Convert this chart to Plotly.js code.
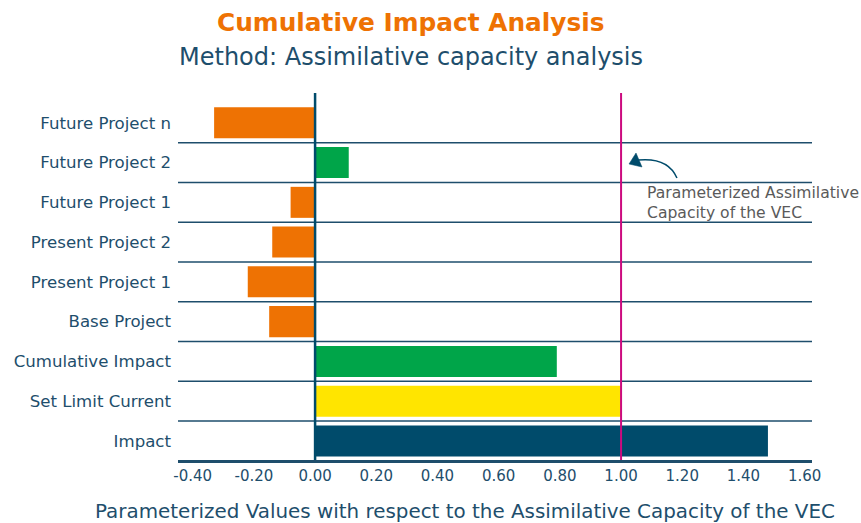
<!DOCTYPE html>
<html>
<head>
<meta charset="utf-8">
<script src="https://cdn.plot.ly/plotly-3.0.1.min.js"></script>
<style>
  html, body { margin: 0; padding: 0; background: #fff; }
  #chart { width: 861px; height: 523px; }
</style>
</head>
<body>
<div id="chart"></div>
<script>
// Projects, listed bottom to top
const categories = [
  'Impact',
  'Set Limit Current',
  'Cumulative Impact',
  'Base Project',
  'Present Project 1',
  'Present Project 2',
  'Future Project 1',
  'Future Project 2',
  'Future Project n'
];
// Parameterized values (fraction of assimilative capacity)
const values = [1.48, 1.00, 0.79, -0.15, -0.22, -0.14, -0.08, 0.11, -0.33];
const barColors = ['#004B6B', '#FFE500', '#00A549', '#EE7203', '#EE7203', '#EE7203', '#EE7203', '#00A549', '#EE7203'];

const capacityLimit = 1.00;
const tickVals = [-0.4, -0.2, 0, 0.2, 0.4, 0.6, 0.8, 1.0, 1.2, 1.4, 1.6];
const tickText = ['-0.40', '-0.20', '0.00', '0.20', '0.40', '0.60', '0.80', '1.00', '1.20', '1.40', '1.60'];

const navy = '#1E4E6C';
const font = '"DejaVu Sans", "Open Sans", sans-serif';

const trace = {
  type: 'bar',
  orientation: 'h',
  x: values,
  y: categories,
  width: 0.78,
  marker: { color: barColors, line: { width: 0 } },
  hoverinfo: 'skip'
};

// Row separators between categories
const gridShapes = [];
for (let k = 0; k < categories.length - 1; k++) {
  gridShapes.push({
    type: 'line', xref: 'paper', yref: 'y',
    x0: 0, x1: 1, y0: k + 0.5, y1: k + 0.5,
    line: { color: navy, width: 1.5 },
    layer: 'below'
  });
}

const shapes = gridShapes.concat([
  // zero reference line
  { type: 'line', xref: 'x', yref: 'paper', x0: 0, x1: 0, y0: 0, y1: 1,
    line: { color: '#004B6B', width: 2.5 } },
  // assimilative capacity line
  { type: 'line', xref: 'x', yref: 'paper', x0: capacityLimit, x1: capacityLimit, y0: 0, y1: 1,
    line: { color: '#CC0A7F', width: 2 } },
  // curved pointer towards the capacity line
  { type: 'path', xref: 'paper', yref: 'paper',
    path: 'M 0.787 0.7684 Q 0.7729 0.8256 0.7256 0.8174',
    line: { color: '#004B6B', width: 1.5 } },
  { type: 'path', xref: 'paper', yref: 'paper',
    path: 'M 0.7114 0.8065 L 0.7224 0.8365 L 0.7319 0.7984 Z',
    fillcolor: '#004B6B', line: { color: '#004B6B', width: 0.5 } }
]);

const annotations = [
  { xref: 'paper', yref: 'paper', x: 0.3675, y: 1.193, xanchor: 'center', yanchor: 'middle',
    text: '<b>Cumulative Impact Analysis</b>', showarrow: false,
    font: { family: font, size: 24.8, color: '#EE7203' } },
  { xref: 'paper', yref: 'paper', x: 0.3675, y: 1.098, xanchor: 'center', yanchor: 'middle',
    text: 'Method: Assimilative capacity analysis', showarrow: false,
    font: { family: font, size: 24, color: navy } },
  { xref: 'paper', yref: 'paper', x: 0.7366, y: 0.699, xanchor: 'left', yanchor: 'middle', align: 'left',
    text: 'Parameterized Assimilative<br>Capacity of the VEC', showarrow: false,
    font: { family: font, size: 15.6, color: '#5A5A5A' } },
  { xref: 'paper', yref: 'paper', x: 0.4527, y: -0.139, xanchor: 'center', yanchor: 'middle',
    text: 'Parameterized Values with respect to the Assimilative Capacity of the VEC', showarrow: false,
    font: { family: font, size: 19.9, color: navy } }
];

const layout = {
  width: 861,
  height: 523,
  margin: { l: 178, r: 49, t: 93, b: 63 },
  paper_bgcolor: '#ffffff',
  plot_bgcolor: '#ffffff',
  showlegend: false,
  bargap: 0.2,
  xaxis: {
    range: [-0.448, 1.624],
    tickvals: tickVals,
    ticktext: tickText,
    showgrid: false,
    zeroline: false,
    showline: true,
    linecolor: navy,
    linewidth: 2.5,
    ticks: '',
    tickfont: { family: font, size: 15, color: navy },
    fixedrange: true
  },
  yaxis: {
    type: 'category',
    categoryorder: 'array',
    categoryarray: categories,
    range: [-0.48, 8.75],
    showgrid: false,
    zeroline: false,
    showline: false,
    ticks: '',
    ticklabelstandoff: 6,
    tickfont: { family: font, size: 16.6, color: navy },
    fixedrange: true
  },
  shapes: shapes,
  annotations: annotations
};

Plotly.newPlot('chart', [trace], layout, { displayModeBar: false, staticPlot: true });
</script>
</body>
</html>
